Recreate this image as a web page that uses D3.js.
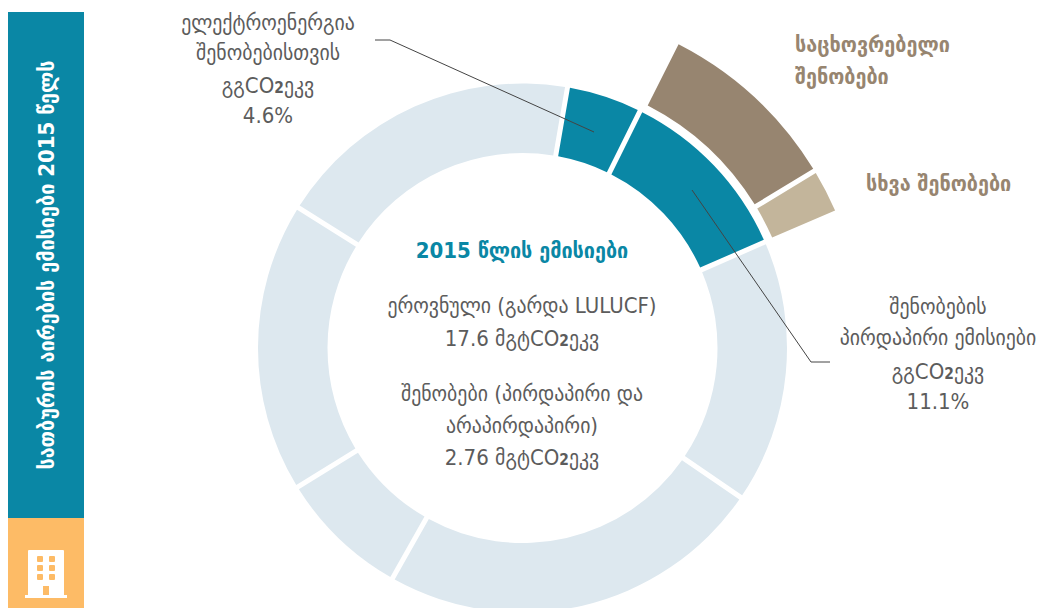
<!DOCTYPE html>
<html>
<head>
<meta charset="utf-8">
<script src="https://cdn.jsdelivr.net/npm/d3@7"></script>
<style>
html, body { margin: 0; padding: 0; background: #fff; }
svg { display: block; }
text { font-family: "DejaVu Sans Condensed", "DejaVu Sans", sans-serif; font-stretch: condensed; }
</style>
</head>
<body>
<div id="chart"></div>
<script>
// share of national emissions, % (clockwise, starting at the electricity slice)
var ringLabels = ["electricity", "direct", "other1", "other2", "other3", "other4", "other5"];
var ringValues = [4.6, 11.1, 16.1, 23.6, 8.0, 17.7, 18.8];
var ringColors = ["#0a87a5", "#0a87a5", "#dde8ef", "#dde8ef", "#dde8ef", "#dde8ef", "#dde8ef"];

// split of the direct emissions slice
var splitLabels = ["residential", "other"];
var splitValues = [8.9, 2.2];
var splitColors = ["#978570", "#c3b59b"];

var sideTitle = "სათბურის აირების ემისიები 2015 წელს";
var centerTitle = "2015 წლის ემისიები";
var centerLines = [
	[{t: "ეროვნული (გარდა LULUCF)"}],
	[{t: "17.6 მგტCO"}, {t: "2", b: 1}, {t: "ეკვ"}],
	[{t: "შენობები (პირდაპირი და"}],
	[{t: "არაპირდაპირი)"}],
	[{t: "2.76 მგტCO"}, {t: "2", b: 1}, {t: "ეკვ"}]
];
var centerLineY = [313, 346, 401, 433, 465];

var width = 1038, height = 608;
var cx = 522.5, cy = 348;
var startDeg = 9.8;
var textColor = "#5c5c5c";

var svg = d3.select("#chart").append("svg")
	.attr("width", width)
	.attr("height", height);

// left band
svg.append("rect").attr("x", 8).attr("y", 12).attr("width", 76).attr("height", 506).attr("fill", "#0a87a5");
svg.append("rect").attr("x", 8).attr("y", 518).attr("width", 76).attr("height", 90).attr("fill", "#fdbb66");

svg.append("text")
	.attr("transform", "translate(54,265) rotate(-90)")
	.attr("text-anchor", "middle")
	.attr("font-size", 22)
	.attr("font-weight", "bold")
	.attr("fill", "#fff")
	.text(sideTitle);

// building icon
var icon = svg.append("g").attr("fill", "#fff");
icon.append("rect").attr("x", 28).attr("y", 550).attr("width", 36).attr("height", 47).attr("rx", 1);
icon.append("rect").attr("x", 25).attr("y", 595).attr("width", 42).attr("height", 3);
var windowX = [37, 49], windowY = [556, 565, 574];
windowY.forEach(function(y){
	windowX.forEach(function(x){
		icon.append("rect").attr("x", x).attr("y", y).attr("width", 6).attr("height", 6).attr("rx", 1).attr("fill", "#fdbb66");
	});
});
icon.append("rect").attr("x", 43).attr("y", 586).attr("width", 6).attr("height", 9).attr("fill", "#fdbb66");

// main ring
var rad = Math.PI / 180;
var ringPie = d3.pie().sort(null)
	.startAngle(startDeg * rad)
	.endAngle((startDeg + 360) * rad);
var ringArc = d3.arc()
	.innerRadius(195)
	.outerRadius(264.5)
	.padAngle(5 / 230)
	.padRadius(230);

var chart = svg.append("g").attr("transform", "translate(" + cx + "," + cy + ")");
var ringData = ringPie(ringValues);
chart.selectAll("path.ring")
	.data(ringData)
	.enter().append("path")
	.attr("class", "ring")
	.attr("d", ringArc)
	.attr("fill", function(d, i){ return ringColors[i]; });

// outer wedge sits on the direct emissions slice
var direct = ringData[1];
var splitPie = d3.pie().sort(null)
	.startAngle(direct.startAngle + 0.4 * rad)
	.endAngle(direct.endAngle + 0.3 * rad);
var splitArc = d3.arc()
	.innerRadius(273)
	.outerRadius(341.5)
	.padAngle(5 / 305)
	.padRadius(305);
chart.selectAll("path.split")
	.data(splitPie(splitValues))
	.enter().append("path")
	.attr("class", "split")
	.attr("d", splitArc)
	.attr("fill", function(d, i){ return splitColors[i]; });

// leader lines
var line = d3.line();
var leaders = [
	[[375, 40], [390, 40], [594, 132]],
	[[692, 190], [811, 362], [830, 362]]
];
svg.selectAll("path.leader")
	.data(leaders)
	.enter().append("path")
	.attr("class", "leader")
	.attr("d", line)
	.attr("fill", "none")
	.attr("stroke", "#444")
	.attr("stroke-width", 1);

function addLine(x, y, parts, size, color){
	var t = svg.append("text")
		.attr("x", x)
		.attr("y", y)
		.attr("text-anchor", "middle")
		.attr("font-size", size)
		.attr("fill", color);
	parts.forEach(function(p){
		t.append("tspan")
			.attr("font-weight", p.b ? "bold" : "normal")
			.attr("font-size", p.b ? size * 0.7 : size)
			.text(p.t);
	});
}

// center text
svg.append("text")
	.attr("x", 522)
	.attr("y", 258)
	.attr("text-anchor", "middle")
	.attr("font-size", 22)
	.attr("font-weight", "bold")
	.attr("fill", "#0a87a5")
	.text(centerTitle);
centerLines.forEach(function(parts, i){
	addLine(522, centerLineY[i], parts, 22, textColor);
});

// callouts
var leftCallout = [
	[{t: "ელექტროენერგია"}],
	[{t: "შენობებისთვის"}],
	[{t: "გგCO"}, {t: "2", b: 1}, {t: "ეკვ"}],
	[{t: "4.6%"}]
];
var leftCalloutY = [30, 60, 93, 123];
leftCallout.forEach(function(parts, i){
	addLine(268, leftCalloutY[i], parts, 22, textColor);
});

var rightCallout = [
	[{t: "შენობების"}],
	[{t: "პირდაპირი ემისიები"}],
	[{t: "გგCO"}, {t: "2", b: 1}, {t: "ეკვ"}],
	[{t: "11.1%"}]
];
var rightCalloutY = [314, 345, 379, 409];
rightCallout.forEach(function(parts, i){
	addLine(938, rightCalloutY[i], parts, 22, textColor);
});

// wedge names
var wedgeNames = [
	{t: "საცხოვრებელი", x: 795, y: 52},
	{t: "შენობები", x: 795, y: 84},
	{t: "სხვა შენობები", x: 866, y: 191}
];
svg.selectAll("text.wedge")
	.data(wedgeNames)
	.enter().append("text")
	.attr("class", "wedge")
	.attr("x", function(d){ return d.x; })
	.attr("y", function(d){ return d.y; })
	.attr("font-size", 22)
	.attr("font-weight", "bold")
	.attr("fill", "#978570")
	.text(function(d){ return d.t; });
</script>
</body>
</html>
